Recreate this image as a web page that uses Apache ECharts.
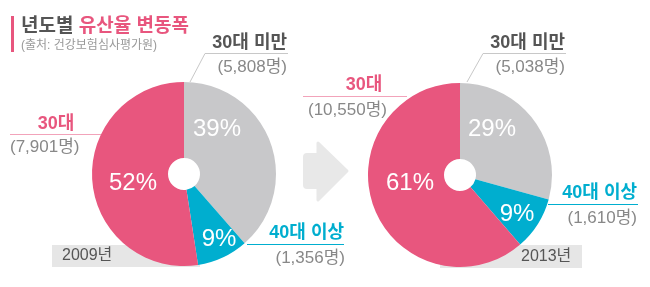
<!DOCTYPE html>
<html><head><meta charset="utf-8">
<script src="https://cdn.jsdelivr.net/npm/echarts@6/dist/echarts.min.js"></script>
<style>html,body{margin:0;padding:0;background:#fff}#c{width:650px;height:287px}</style>
</head><body><div id="c"></div>
<script>
// ---- data ----
const categories = ['30대 미만', '40대 이상', '30대'];
const years = ['2009년', '2013년'];
const counts2009 = [5808, 1356, 7901];
const counts2013 = [5038, 1610, 10550];
const pct2009 = ['39%', '9%', '52%'];
const pct2013 = ['29%', '9%', '61%'];
const countText2009 = ['(5,808명)', '(1,356명)', '(7,901명)'];
const countText2013 = ['(5,038명)', '(1,610명)', '(10,550명)'];
const titleDark = '년도별 ';
const titlePink = '유산율 변동폭';
const sourceText = '(출처: 건강보험심사평가원)';

// ---- style ----
const GRAY = '#c8c8ca', TEAL = '#00aecf', PINK = '#e8567e';
const sliceColors = [GRAY, TEAL, PINK];
const catColors = ['#555555', TEAL, PINK];
const FF = "'Liberation Sans','Noto Sans CJK KR',sans-serif";

const chart = echarts.init(document.getElementById('c'), null, {renderer: 'canvas'});

function pieSeries(counts, center) {
  return {
    type: 'pie', center: center, radius: [16, 92], startAngle: 90, clockwise: true,
    silent: true, animation: false, label: {show: false}, labelLine: {show: false},
    emphasis: {disabled: true},
    itemStyle: {borderWidth: 0},
    data: counts.map((v, i) => ({name: categories[i], value: v, itemStyle: {color: sliceColors[i]}}))
  };
}

function txt(x, y, s, opt) {
  return Object.assign({type: 'text', x: x, y: y, z: 10, style: Object.assign({
    text: s, fill: '#888', font: '17px ' + FF, textAlign: 'left', textVerticalAlign: 'middle'
  }, opt || {})});
}
function line(x1, y1, x2, y2, c) {
  return {type: 'line', z: 9, shape: {x1, y1, x2, y2}, style: {stroke: c, lineWidth: 1}};
}
const pctStyle = {fill: '#fff', font: '24px ' + FF, textAlign: 'center'};
const catFont = 'bold 18px ' + FF;

const graphic = [
  // title
  {type: 'rect', shape: {x: 11, y: 16, width: 3, height: 36}, style: {fill: PINK}},
  {type: 'text', x: 21, y: 27, style: {
    text: '{a|' + titleDark + '}{b|' + titlePink + '}', textVerticalAlign: 'middle',
    rich: {a: {fill: '#555', font: 'bold 19px ' + FF}, b: {fill: PINK, font: 'bold 19px ' + FF}}
  }},
  txt(21, 46, sourceText, {fill: '#999', font: '12px ' + FF}),
  // arrow
  {type: 'rect', shape: {x: 303, y: 153, width: 22, height: 36, r: 4}, style: {fill: '#e8e8e8'}},
  {type: 'polygon', shape: {points: [[318, 143], [347, 171], [318, 200]]}, style: {fill: '#e8e8e8', stroke: '#e8e8e8', lineJoin: 'round', lineWidth: 3}},
  // year boxes (behind pies)
  {type: 'rect', z: -1, shape: {x: 52, y: 245, width: 148, height: 22}, style: {fill: '#e6e6e6'}},
  {type: 'rect', z: -1, shape: {x: 440, y: 245, width: 142, height: 23}, style: {fill: '#e6e6e6'}},
  txt(62, 256, years[0], {fill: '#555', font: '16px ' + FF}),
  txt(521, 257, years[1], {fill: '#555', font: '16px ' + FF}),

  // ---- 2009 annotations ----
  txt(287, 43, categories[0], {fill: catColors[0], font: catFont, textAlign: 'right'}),
  line(205, 53.5, 288, 53.5, '#c8c8c8'), line(205, 53.5, 190, 82, '#c8c8c8'),
  txt(287, 67, countText2009[0], {textAlign: 'right'}),
  txt(56, 124, categories[2], {fill: catColors[2], font: catFont, textAlign: 'center'}),
  line(10, 134.5, 101, 134.5, '#f2a3ba'),
  txt(10, 147, countText2009[2]),
  txt(344, 233, categories[1], {fill: catColors[1], font: catFont, textAlign: 'right'}),
  line(247, 244.5, 344, 244.5, TEAL),
  txt(345, 258, countText2009[1], {textAlign: 'right'}),
  txt(217, 129, pct2009[0], pctStyle),
  txt(219, 239, pct2009[1], pctStyle),
  txt(133, 183, pct2009[2], pctStyle),

  // ---- 2013 annotations ----
  txt(565, 43, categories[0], {fill: catColors[0], font: catFont, textAlign: 'right'}),
  line(483, 53.5, 566, 53.5, '#c8c8c8'), line(483, 53.5, 467, 82, '#c8c8c8'),
  txt(565, 67, countText2013[0], {textAlign: 'right'}),
  txt(364, 85, categories[2], {fill: catColors[2], font: catFont, textAlign: 'center'}),
  line(303, 96.5, 407, 96.5, '#f2a3ba'),
  txt(308, 110, countText2013[2]),
  txt(637, 193, categories[1], {fill: catColors[1], font: catFont, textAlign: 'right'}),
  line(548, 204.5, 638, 204.5, TEAL),
  txt(637, 218, countText2013[1], {textAlign: 'right'}),
  txt(492, 129, pct2013[0], pctStyle),
  txt(517, 214, pct2013[1], pctStyle),
  txt(410, 183, pct2013[2], pctStyle)
];

chart.setOption({
  backgroundColor: '#fff',
  animation: false,
  series: [pieSeries(counts2009, [184, 174]), pieSeries(counts2013, [460, 175])],
  graphic: graphic
});
</script></body></html>
